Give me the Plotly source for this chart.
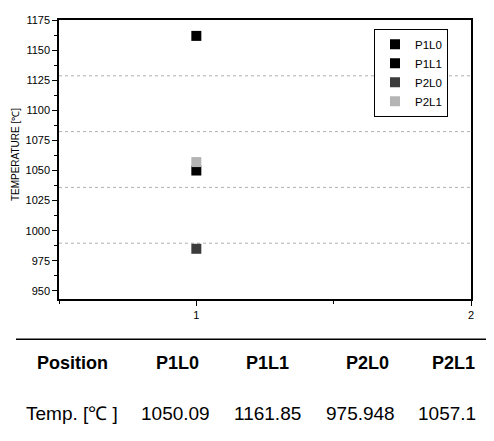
import plotly.graph_objects as go

# ---- data ----
positions = ["P1L0", "P1L1", "P2L0", "P2L1"]
x_pos = [1, 1, 1, 1]
temps_plotted = [1050.0, 1161.8, 985.0, 1057.0]   # as drawn on the chart
temps_table = ["1050.09", "1161.85", "975.948", "1057.1"]  # as printed in the table
colors = ["#000000", "#000000", "#3c3c3c", "#b4b4b4"]
y_ticks = [950, 975, 1000, 1025, 1050, 1075, 1100, 1125, 1150, 1175]
x_ticks = [1, 2]

PAGE_W, PAGE_H = 494, 441
OFF = 8  # default body margin of the html page
W, H = PAGE_W - OFF, PAGE_H - OFF
L, R, T, B = 59, 471, 14, 299  # plot area in page px
pw, ph = R - L, B - T

def px_x(x):
    return (x - L) / pw

def px_y(y):
    return (B - y) / ph

fig = go.Figure()
for name, xv, yv, c in zip(positions, x_pos, temps_plotted, colors):
    fig.add_trace(go.Scatter(
        x=[xv], y=[yv], mode="markers", name=name,
        marker=dict(symbol="square", size=10, color=c, line=dict(width=0)),
    ))

# dotted grid lines dividing plot in 5 equal parts
for f in [0.2, 0.4, 0.6, 0.8]:
    fig.add_shape(type="line", xref="paper", yref="paper", x0=0, x1=1, y0=f, y1=f,
                  line=dict(color="#b0b0b0", width=1, dash="dot"), layer="below")

# table line
fig.add_shape(type="line", xref="paper", yref="paper",
              x0=px_x(16), x1=px_x(494), y0=px_y(340), y1=px_y(340),
              line=dict(color="black", width=1.5))

col_x = [72, 177, 267, 367, 453]
temp_x = [72, 175, 267, 360, 447]
header = ["Position"] + positions
row = ["Temp. [℃ ]"] + temps_table
for cx, txt in zip(col_x, header):
    fig.add_annotation(x=px_x(cx), y=px_y(364), xref="paper", yref="paper",
                       text="<b>" + txt + "</b>", showarrow=False,
                       font=dict(family="Arial, Liberation Sans", size=18, color="black"),
                       xanchor="center", yanchor="middle")
for cx, txt in zip(temp_x, row):
    fig.add_annotation(x=px_x(cx), y=px_y(416), xref="paper", yref="paper",
                       text=txt, showarrow=False,
                       font=dict(family="Arial, Liberation Sans", size=19, color="black"),
                       xanchor="center", yanchor="middle")

# y-axis title
fig.add_annotation(x=px_x(15), y=px_y(152), xref="paper", yref="paper",
                   text="TEMPERATURE [℃]", textangle=-90, showarrow=False,
                   font=dict(family="Arial, Liberation Sans", size=10, color="black"),
                   xanchor="center", yanchor="middle")

fig.update_layout(
    width=W, height=H,
    margin=dict(l=L - OFF, r=PAGE_W - R, t=T - OFF, b=PAGE_H - B),
    paper_bgcolor="white", plot_bgcolor="white",
    font=dict(family="Arial, Liberation Sans", size=11, color="black"),
    showlegend=True,
    legend=dict(x=px_x(374), y=px_y(23), xanchor="left", yanchor="top",
                bordercolor="black", borderwidth=1, bgcolor="white",
                font=dict(size=11.5, color="black"), itemsizing="trace",
                tracegroupgap=0),
    xaxis=dict(range=[0.5, 2], tickvals=x_ticks, showgrid=False, zeroline=False,
               showline=True, linecolor="black", linewidth=1.5, mirror=True,
               ticks="outside", ticklen=5, tickcolor="black", tickwidth=1,
               minor=dict(dtick=0.5, ticks="outside", ticklen=3, tickcolor="black", showgrid=False),
               tickfont=dict(size=11)),
    yaxis=dict(range=[943.3, 1175], tickvals=y_ticks, showgrid=False, zeroline=False,
               showline=True, linecolor="black", linewidth=1.5, mirror=True,
               ticks="outside", ticklen=5, tickcolor="black", tickwidth=1,
               minor=dict(dtick=12.5, tick0=950, ticks="outside", ticklen=3, tickcolor="black", showgrid=False),
               tickfont=dict(size=11)),
)

fig.write_html("out.html")
